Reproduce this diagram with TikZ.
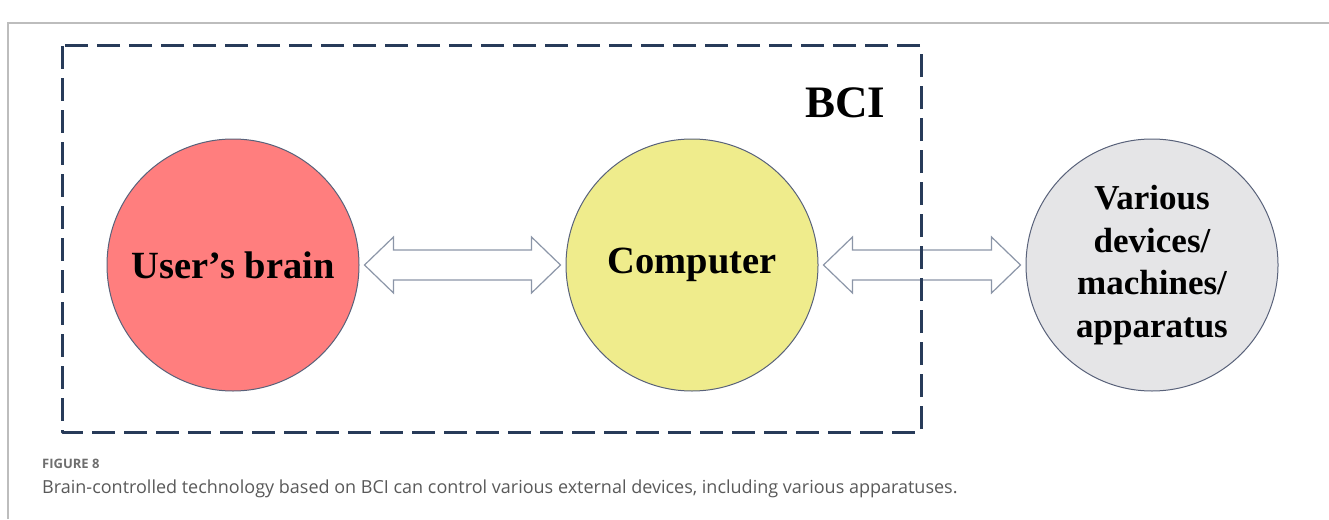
\documentclass[tikz,border=0pt]{standalone}
\usepackage{fontspec}
\setmainfont{Liberation Serif}
\newfontfamily\capfont{Open Sans}
\usepackage{xcolor}
\usetikzlibrary{calc}
\definecolor{framegray}{HTML}{BDBDBD}
\definecolor{boxnavy}{HTML}{283B59}
\definecolor{rimgray}{HTML}{59627A}
\definecolor{arrowgray}{HTML}{8C96A8}
\definecolor{brainred}{HTML}{FF7E7E}
\definecolor{compyellow}{HTML}{EFEC8C}
\definecolor{devgray}{HTML}{E5E5E7}
\definecolor{captext}{HTML}{595959}
\definecolor{capgray}{HTML}{6E6E6E}

\newcommand{\dblarrow}[2]{%
\draw[blockarr] let \p1=($(#1.east)+(5pt,0)$), \p2=($(#2.west)-(5pt,0)$) in
  (\x1,\y1) -- (\x1+29pt,\y1+28pt) -- (\x1+29pt,\y1+15pt) -- (\x2-29pt,\y1+15pt) -- (\x2-29pt,\y1+28pt)
  -- (\x2,\y1) -- (\x2-29pt,\y1-28pt) -- (\x2-29pt,\y1-15pt) -- (\x1+29pt,\y1-15pt) -- (\x1+29pt,\y1-28pt) -- cycle;}

\begin{document}
\begin{tikzpicture}[x=1pt,y=-1pt,
  bubble/.style={circle,draw=rimgray,line width=1pt,minimum size=252pt,inner sep=0pt,align=center,text=black,font=\fontsize{38.5}{42}\selectfont\bfseries},
  blockarr/.style={draw=arrowgray,fill=white,line width=1.2pt,line join=miter},
  bcibox/.style={draw=boxnavy,line width=3pt,dash pattern=on 23pt off 9pt,line join=round}]
\useasboundingbox (0,0) rectangle (1329,519);
\draw[framegray,line width=1.5pt] (8,519) -- (8,23) -- (1329,23);
\node[bubble,fill=brainred] (brain) at (233,265) {User's brain};
\node[bubble,fill=compyellow] (computer) at (692,265) {Computer};
\node[bubble,fill=devgray,font=\fontsize{35}{42.5}\selectfont\bfseries] (devices) at (1152,265) {Various\\devices/\\machines/\\apparatus};
\dblarrow{brain}{computer}
\dblarrow{computer}{devices}
\coordinate (boxnw) at (62,46);
\coordinate (boxse) at (921,432);
\draw[bcibox] (boxnw) rectangle (boxse);
\node[font=\fontsize{45}{45}\selectfont\bfseries] (bci) at (845,103) {BCI};
\node[anchor=base west,inner sep=0pt,text=capgray,font=\capfont\fontsize{13}{13}\selectfont\bfseries] (fignum) at (42,468) {FIGURE 8};
\node[anchor=base west,inner sep=0pt,text=captext,font=\capfont\fontsize{18}{18}\selectfont] (caption) at (42,493) {Brain-controlled technology based on BCI can control various external devices, including various apparatuses.};
\end{tikzpicture}
\end{document}
